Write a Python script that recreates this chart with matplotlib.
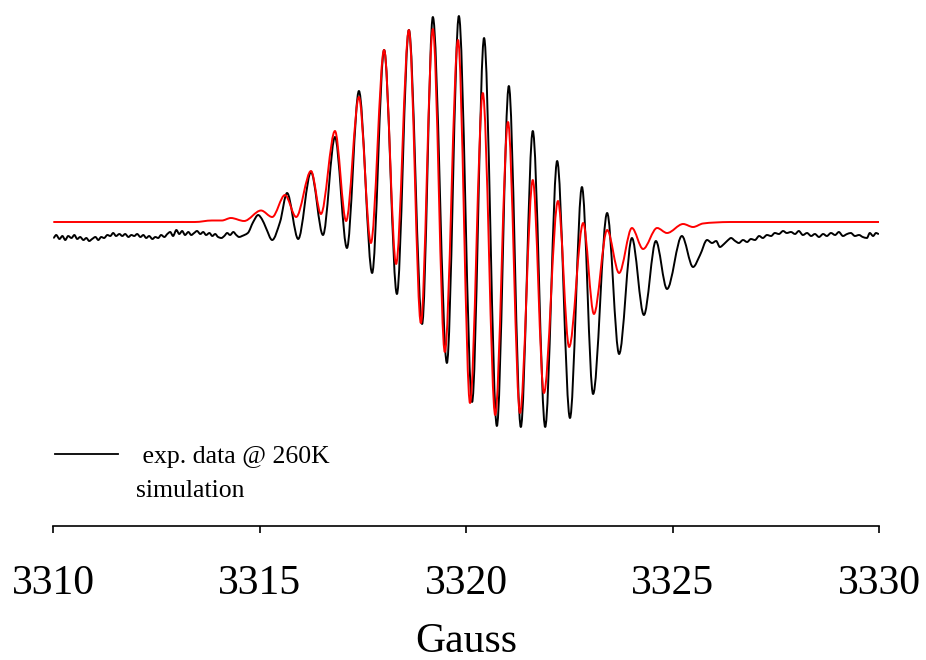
import numpy as np
import matplotlib
matplotlib.use("Agg")
import matplotlib.pyplot as plt
from matplotlib.path import Path
from matplotlib.patches import PathPatch
from matplotlib.lines import Line2D

plt.rcParams['font.family'] = ['Liberation Serif', 'DejaVu Serif']

# ---------------- data (field in Gauss, derivative signal in a.u.) ----------------
exp_field = [
    3310.00, 3310.07, 3310.15, 3310.22, 3310.29, 3310.36, 3310.44, 3310.51, 3310.58, 3310.65,
    3310.73, 3310.80, 3310.87, 3310.94, 3311.02, 3311.09, 3311.16, 3311.23, 3311.31, 3311.38,
    3311.45, 3311.52, 3311.60, 3311.67, 3311.74, 3311.82, 3311.89, 3311.96, 3312.03, 3312.11,
    3312.18, 3312.25, 3312.32, 3312.40, 3312.47, 3312.54, 3312.61, 3312.69, 3312.76, 3312.83,
    3312.90, 3312.98, 3313.05, 3313.12, 3313.19, 3313.27, 3313.34, 3313.41, 3313.48, 3313.56,
    3313.63, 3313.70, 3313.78, 3313.85, 3313.92, 3313.99, 3314.07, 3314.14, 3314.21, 3314.28,
    3314.36, 3314.43, 3314.50, 3314.57,
    3314.71, 3314.84, 3314.96, 3315.05, 3315.15, 3315.30, 3315.49, 3315.66, 3315.93, 3316.24,
    3316.53, 3316.82, 3317.11, 3317.40, 3317.72, 3318.01, 3318.32, 3318.61, 3318.93, 3319.19,
    3319.53, 3319.82, 3320.14, 3320.43, 3320.74, 3321.03, 3321.32, 3321.61, 3321.91, 3322.20,
    3322.51, 3322.80, 3323.07, 3323.41, 3323.70, 3324.01, 3324.30, 3324.59, 3324.86, 3325.22,
    3325.49, 3325.66, 3325.83,
    3325.95, 3326.05, 3326.14, 3326.24, 3326.34, 3326.41, 3326.51, 3326.60, 3326.70, 3326.80,
    3326.89, 3326.99, 3327.09, 3327.18, 3327.28, 3327.38, 3327.47, 3327.57, 3327.67, 3327.76,
    3327.86, 3327.96, 3328.05, 3328.15, 3328.25, 3328.35, 3328.44, 3328.54, 3328.64, 3328.73,
    3328.83, 3328.93, 3329.02, 3329.12, 3329.22, 3329.31, 3329.41, 3329.51, 3329.60, 3329.70,
    3329.77, 3329.85, 3329.92, 3329.99,
]
exp_signal = [
    -8, -5, -9, -6, -10, -6, -8, -5, -9, -7,
    -10, -8, -11, -9, -7, -10, -7, -8, -5, -6,
    -3, -6, -4, -6, -4, -7, -5, -6, -4, -7,
    -5, -8, -6, -9, -7, -8, -5, -7, -4, -2,
    -6, 0, -4, -1, -5, -2, -5, -3, -1, -4,
    -2, -5, -3, -6, -4, -7, -8, -6, -3, -5,
    -2, -5, -7, -6,
    -3, 8, 15, 11, 2, -10, 8, 37, -9, 58,
    -5, 93, -18, 139, -43, 180, -64, 200, -94, 213,
    -133, 214, -172, 192, -196, 144, -197, 99, -197, 69,
    -188, 43, -164, 17, -124, -8, -85, -11, -59, -6,
    -37, -25, -10,
    -13, -11, -17, -14, -10, -8, -11, -13, -10, -12,
    -9, -10, -6, -8, -5, -6, -3, -4, -1, -3,
    -2, -4, -1, -5, -3, -6, -4, -7, -4, -6,
    -3, -5, -2, -6, -4, -3, -6, -5, -7, -8,
    -3, -6, -3, -4,
]

sim_field = [
    3310.00, 3311.62, 3313.43, 3313.84, 3314.08, 3314.30, 3314.62, 3315.03, 3315.30, 3315.61,
    3315.88, 3316.24, 3316.48, 3316.82, 3317.09, 3317.40, 3317.69, 3318.01, 3318.30, 3318.61,
    3318.90, 3319.19, 3319.48, 3319.80, 3320.09, 3320.40, 3320.70, 3321.01, 3321.30, 3321.61,
    3321.88, 3322.22, 3322.49, 3322.83, 3323.09, 3323.41, 3323.70, 3324.01, 3324.28, 3324.62,
    3324.86, 3325.25, 3325.49, 3325.73, 3326.02, 3326.39, 3330.00,
]
sim_signal = [
    8, 8, 8, 9.5, 9.5, 12, 9, 19.5, 13, 35,
    13, 59, 16, 99, 9, 133, -13, 180, -34, 200,
    -93, 201, -122, 190, -173, 137, -185, 108, -183, 50,
    -163, 29, -117, 7, -84, 0, -43, 2, -19, 2,
    -3, 6, 3, 6.5, 7.5, 8, 8,
]

x_ticks = [3310, 3315, 3320, 3325, 3330]
x_label = "Gauss"
legend_labels = [" exp. data @ 260K", "simulation"]


def smooth_path(x, y):
    """Monotone cubic (Bezier) path through the read-off points."""
    x = np.asarray(x, float)
    y = np.asarray(y, float)
    h = np.diff(x)
    d = np.diff(y) / h
    m = np.zeros_like(y)
    for i in range(1, len(y) - 1):
        if d[i - 1] * d[i] > 0:
            w1 = 2 * h[i] + h[i - 1]
            w2 = h[i] + 2 * h[i - 1]
            m[i] = (w1 + w2) / (w1 / d[i - 1] + w2 / d[i])
    verts = [(x[0], y[0])]
    codes = [Path.MOVETO]
    for i in range(len(h)):
        verts += [(x[i] + h[i] / 3, y[i] + m[i] * h[i] / 3),
                  (x[i + 1] - h[i] / 3, y[i + 1] - m[i + 1] * h[i] / 3),
                  (x[i + 1], y[i + 1])]
        codes += [Path.CURVE4] * 3
    return Path(verts, codes)


W, H = 926, 660
fig = plt.figure(figsize=(W / 100, H / 100), dpi=100)
ax = fig.add_axes([53.3 / W, (H - 526) / H, 826 / W, (526 - 5) / H])

ax.add_patch(PathPatch(smooth_path(exp_field, exp_signal), fill=False,
                       edgecolor='black', lw=1.4, joinstyle='round'))
ax.add_patch(PathPatch(smooth_path(sim_field, sim_signal), fill=False,
                       edgecolor='#ff0000', lw=1.4, joinstyle='round'))

ax.set_xlim(3310, 3330)
ax.set_ylim(-296, 225)

for s in ('top', 'right', 'left'):
    ax.spines[s].set_visible(False)
ax.spines['bottom'].set_linewidth(1.2)
ax.set_yticks([])
ax.set_xticks(x_ticks)
ax.set_xticklabels([str(t) for t in x_ticks])
ax.tick_params(axis='x', direction='out', length=5, width=1.2, pad=23, labelsize=30)
ax.set_xlabel(x_label, fontsize=30, labelpad=14)

handles = [Line2D([], [], color='black', lw=1.3),
           Line2D([], [], color='none', lw=1.3)]
ax.legend(handles, legend_labels, loc='upper left',
          bbox_to_anchor=(55 / W, 1 - 445 / H), bbox_transform=fig.transFigure,
          frameon=False, fontsize=18.5, handlelength=2.45, handletextpad=0.7,
          labelspacing=0.42, borderpad=0, borderaxespad=0)

fig.savefig("out.png", dpi=100)
